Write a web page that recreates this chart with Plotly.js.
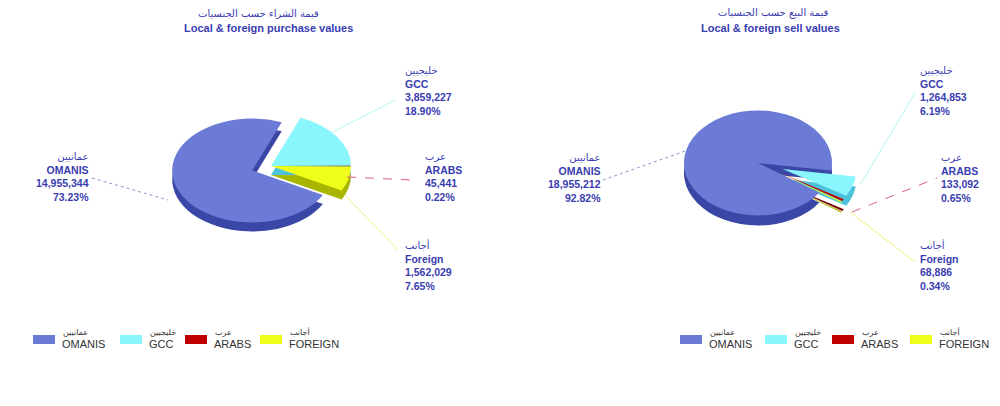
<!DOCTYPE html>
<html><head><meta charset="utf-8">
<script src="https://cdn.plot.ly/plotly-3.0.1.min.js"></script>
<style>html,body{margin:0;padding:0;background:#fff;} #chart{width:1000px;height:406px;}</style>
</head><body><div id="chart"></div>
<script>
// ---- data ----
const categoriesEn = ['OMANIS', 'GCC', 'ARABS', 'FOREIGN'];
const labelNamesEn = ['OMANIS', 'GCC', 'ARABS', 'Foreign'];
const categoriesAr = ['عمانيين', 'خليجيين', 'عرب', 'أجانب'];
const purchaseValues = [14955344, 3859227, 45441, 1562029];
const sellValues = [18955212, 1264853, 133092, 68886];
const titlesAr = ['قيمة الشراء حسب الجنسيات', 'قيمة البيع حسب الجنسيات'];
const titlesEn = ['Local & foreign purchase values', 'Local & foreign sell values'];

// ---- styles ----
const topColors = ['#6b7bd6', '#88f6fc', '#c00000', '#eeff1a'];
const sideColors = ['#3a47a6', '#4cc3da', '#780000', '#a8b600'];
const lineColors = ['#8d94c8', '#b4f4f8', '#e0607a', '#f0f07a'];
const lineDash = ['dot', 'solid', 'dash', 'solid'];
const textColor = '#3a3db0';
const W = 1000, H = 406;
const px = x => x / W, py = y => 1 - y / H;

const pies = [
  { values: purchaseValues, cx: 271, cy: 166, r: 80, rotation: 118, pull: [0.25, 0, 0, 0], squash: 0.65, depth: 9,
    titleArX: 258, titleEnX: 268,
    labelPos: [{x: 91, y: 177, anchor: 'right'}, {x: 403, y: 91, anchor: 'left'}, {x: 423, y: 177, anchor: 'left'}, {x: 403, y: 265, anchor: 'left'}],
    leaders: [[92, 178, 168, 200], [333, 132, 395, 100], [347, 177, 412, 180], [345, 195, 398, 250]],
    legendX: [33, 120, 185, 260] },
  { values: sellValues, cx: 758, cy: 163, r: 74, rotation: 124, pull: [0, 0.35, 0.35, 0.35], squash: 0.71, depth: 10,
    titleArX: 773, titleEnX: 770,
    labelPos: [{x: 603, y: 178, anchor: 'right'}, {x: 918, y: 91, anchor: 'left'}, {x: 939, y: 178, anchor: 'left'}, {x: 918, y: 265, anchor: 'left'}],
    leaders: [[603, 180, 688, 150], [860, 185, 915, 93], [852, 212, 937, 178], [850, 212, 915, 262]],
    legendX: [680, 765, 832, 910] }
];

const fmt = v => v.toLocaleString('en-US');
const traces = [];
const annotations = [];
const shapes = [];

pies.forEach((p, k) => {
  const maxPull = Math.max(...p.pull);
  const half = p.r * (1 + maxPull);
  const domain = { x: [px(p.cx - half), px(p.cx + half)], y: [py(p.cy + half), py(p.cy - half)] };
  const base = { type: 'pie', labels: categoriesEn, values: p.values, sort: false, direction: 'clockwise',
    rotation: p.rotation, pull: p.pull, domain: domain, textinfo: 'none', hoverinfo: 'skip', showlegend: false };
  traces.push(Object.assign({}, base, { marker: { colors: sideColors, line: { width: 0 } } }));
  traces.push(Object.assign({}, base, { marker: { colors: topColors, line: { width: 0 } } }));

  // titles
  annotations.push({ xref: 'paper', yref: 'paper', x: px(p.titleArX), y: py(13), text: titlesAr[k], showarrow: false,
    font: { family: 'DejaVu Sans, sans-serif', size: 10, color: textColor }, xanchor: 'center', yanchor: 'middle' });
  annotations.push({ xref: 'paper', yref: 'paper', x: px(p.titleEnX), y: py(28), text: '<b>' + titlesEn[k] + '</b>', showarrow: false,
    font: { family: 'Liberation Sans, Arial, sans-serif', size: 11, color: textColor }, xanchor: 'center', yanchor: 'middle' });

  const total = p.values.reduce((a, b) => a + b, 0);
  p.values.forEach((v, i) => {
    const lp = p.labelPos[i];
    const pct = (v / total * 100).toFixed(2) + '%';
    annotations.push({ xref: 'paper', yref: 'paper', x: px(lp.x), y: py(lp.y), xanchor: lp.anchor, yanchor: 'middle', align: lp.anchor,
      showarrow: false,
      text: '<span style="font-size:10px">' + categoriesAr[i] + '</span><br><b>' + labelNamesEn[i] + '</b><br><b>' + fmt(v) + '</b><br><b>' + pct + '</b>',
      font: { family: 'Liberation Sans, Arial, DejaVu Sans, sans-serif', size: 10.5, color: textColor } });
    const L = p.leaders[i];
    shapes.push({ type: 'line', xref: 'paper', yref: 'paper', x0: px(L[0]), y0: py(L[1]), x1: px(L[2]), y1: py(L[3]),
      line: { color: lineColors[i], width: 1, dash: lineDash[i] } });
    // legend
    const lx = p.legendX[i];
    shapes.push({ type: 'rect', xref: 'paper', yref: 'paper', x0: px(lx), x1: px(lx + 22), y0: py(344), y1: py(335),
      fillcolor: topColors[i], line: { width: 0 } });
    annotations.push({ xref: 'paper', yref: 'paper', x: px(lx + 27), y: py(344), xanchor: 'left', yanchor: 'middle', showarrow: false,
      text: categoriesEn[i], font: { family: 'Liberation Sans, Arial, sans-serif', size: 11, color: '#333' } });
    annotations.push({ xref: 'paper', yref: 'paper', x: px(lx + 28), y: py(332), xanchor: 'left', yanchor: 'middle', showarrow: false,
      text: categoriesAr[i], font: { family: 'DejaVu Sans, sans-serif', size: 8, color: '#333' } });
  });
});

const layout = {
  width: W, height: H, margin: { l: 0, r: 0, t: 0, b: 0 },
  paper_bgcolor: '#ffffff', plot_bgcolor: '#ffffff', showlegend: false,
  annotations: annotations, shapes: shapes
};

Plotly.newPlot('chart', traces, layout, { staticPlot: true, displayModeBar: false }).then(gd => {
  const groups = gd.querySelectorAll('.pielayer .trace');
  groups.forEach((g, idx) => {
    const p = pies[Math.floor(idx / 2)];
    const isSide = idx % 2 === 0;
    const dy = isSide ? p.depth : 0;
    g.setAttribute('transform', 'translate(0,' + (p.cy + dy) + ') scale(1,' + p.squash + ') translate(0,' + (-p.cy) + ')');
  });
});
</script>
</body></html>
